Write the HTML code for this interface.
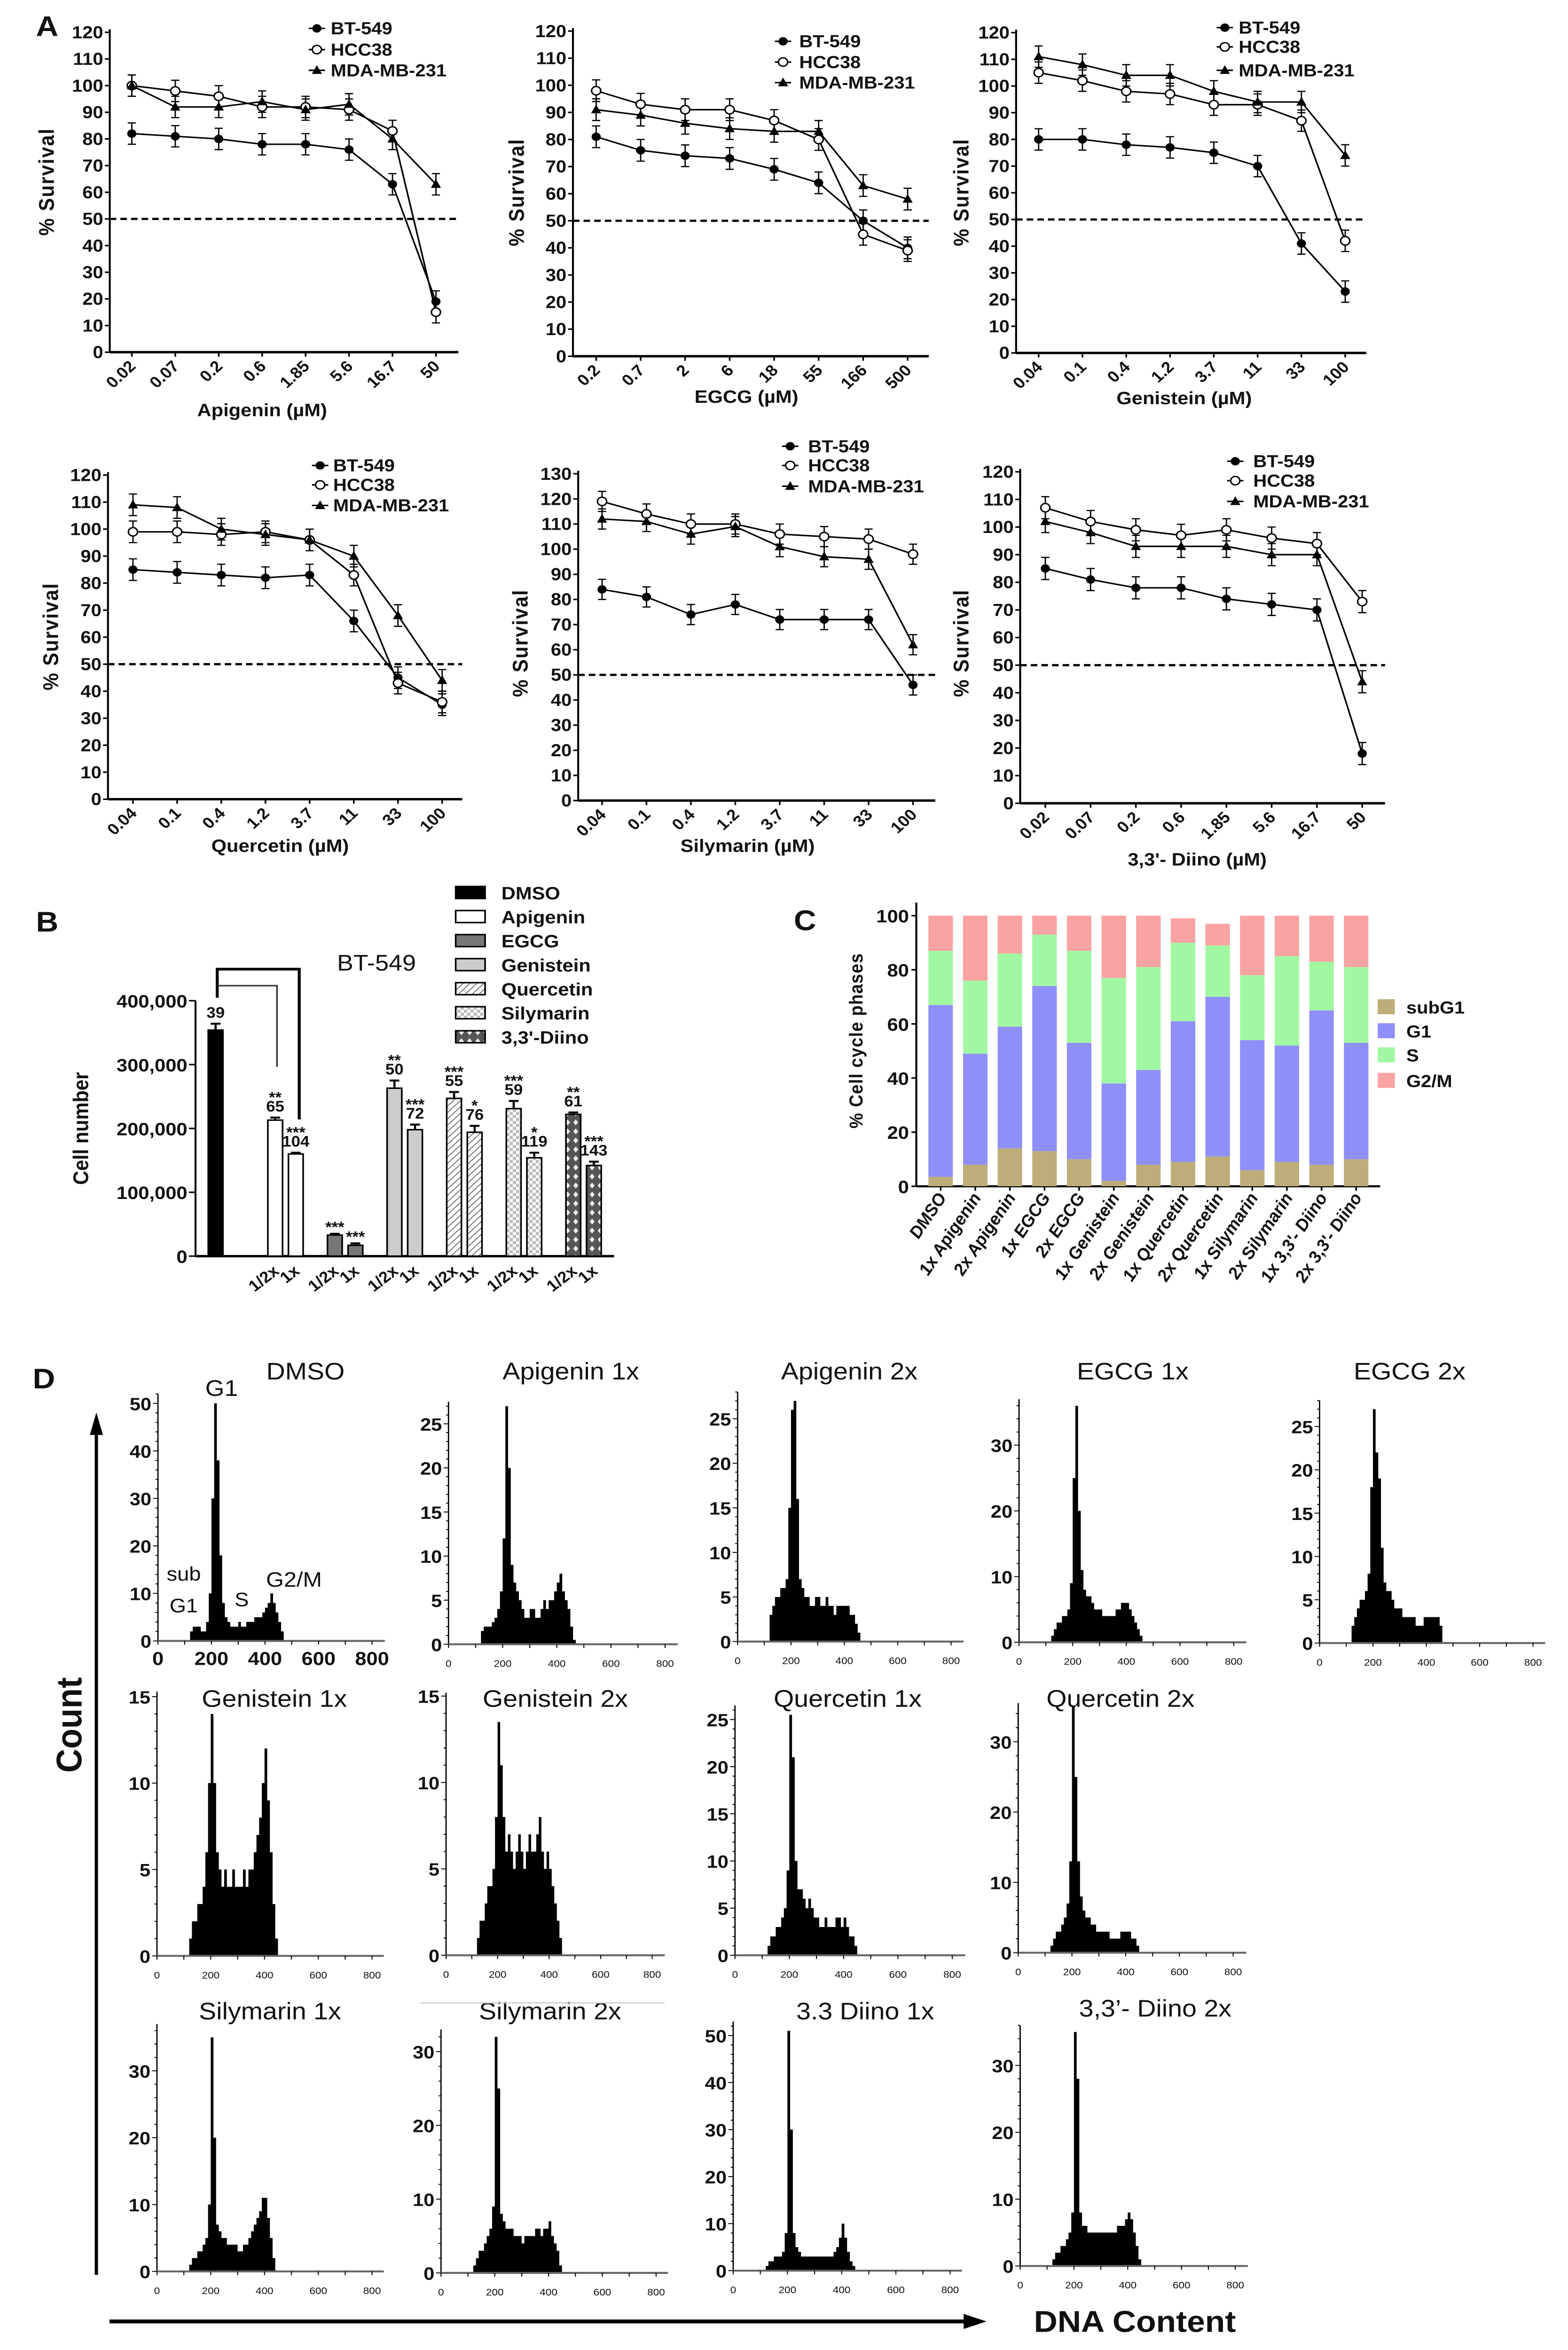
<!DOCTYPE html>
<html><head><meta charset="utf-8">
<style>
html,body{margin:0;padding:0;background:#fff;width:100%;height:100%;overflow:hidden}
svg{display:block;position:fixed;left:0;top:0;width:100vw;height:100vh}
text{font-family:"Liberation Sans",Arial,sans-serif;fill:#111}
</style></head>
<body>
<svg id="fig" xmlns="http://www.w3.org/2000/svg" viewBox="0 0 960 1564" preserveAspectRatio="none" overflow="hidden">
<defs>
<pattern id="hatch" width="3" height="3" patternUnits="userSpaceOnUse" patternTransform="rotate(45)"><rect width="3" height="3" fill="#fff"/><line x1="0" y1="0" x2="0" y2="3" stroke="#666" stroke-width="1.1"/></pattern>
<pattern id="checker" width="4" height="4" patternUnits="userSpaceOnUse"><rect width="4" height="4" fill="#fff"/><rect width="2" height="2" fill="#bbb"/><rect x="2" y="2" width="2" height="2" fill="#bbb"/></pattern>
<pattern id="diino" width="5" height="6" patternUnits="userSpaceOnUse"><rect width="5" height="6" fill="#555"/><polygon points="2.5,1 4,3 2.5,5 1,3" fill="#eee"/></pattern>
</defs>
</svg>
<script>
// ---------- DATA ----------
const apiDoses=['0.02','0.07','0.2','0.6','1.85','5.6','16.7','50'];
const egcgDoses=['0.2','0.7','2','6','18','55','166','500'];
const genDoses=['0.04','0.1','0.4','1.2','3.7','11','33','100'];
const queDoses=['0.04','0.1','0.4','1.2','3.7','11','33','100'];
const silDoses=['0.04','0.1','0.4','1.2','3.7','11','33','100'];
const diiDoses=['0.02','0.07','0.2','0.6','1.85','5.6','16.7','50'];

const apiBT=[82,81,80,78,78,76,63,19];
const apiHCC=[100,98,96,92,92,91,83,15];
const apiMDA=[100,92,92,94,91,93,80,63];
const egcgBT=[81,76,74,73,69,64,50,40];
const egcgHCC=[98,93,91,91,87,80,45,39];
const egcgMDA=[91,89,86,84,83,83,63,58];
const genBT=[80,80,78,77,75,70,41,23];
const genHCC=[105,102,98,97,93,93,87,42];
const genMDA=[111,108,104,104,98,94,94,74];
const queBT=[85,84,83,82,83,66,45,35];
const queHCC=[99,99,98,99,96,83,43,36];
const queMDA=[109,108,100,98,96,90,68,44];
const silBT=[84,81,74,78,72,72,72,46];
const silHCC=[119,114,110,110,106,105,104,98];
const silMDA=[112,111,106,109,101,97,96,62];
const diiBT=[85,81,78,78,74,72,70,18];
const diiHCC=[107,102,99,97,99,96,94,73];
const diiMDA=[102,98,93,93,93,90,90,44];

const bCategories=['DMSO','Apigenin 1/2x','Apigenin 1x','EGCG 1/2x','EGCG 1x','Genistein 1/2x','Genistein 1x','Quercetin 1/2x','Quercetin 1x','Silymarin 1/2x','Silymarin 1x','Diino 1/2x','Diino 1x'];
const bValues=[354000,213000,160000,33000,17000,263000,198000,247000,194000,231000,154000,222000,142000];
const bErrors=[10000,4000,2000,2000,3000,12000,8000,10000,10000,12000,8000,3000,6000];
const bNumbers=['39','65','104','','','50','72','55','76','59','119','61','143'];
const bStars=['','**','***','***','***','**','***','***','*','***','*','**','***'];
const bDoseLabels=['','1/2x','1x','1/2x','1x','1/2x','1x','1/2x','1x','1/2x','1x','1/2x','1x'];
const bTicks=[0,100000,200000,300000,400000];
const bTickLabels=['0','100,000','200,000','300,000','400,000'];
const bLegendNames=['DMSO','Apigenin','EGCG','Genistein','Quercetin','Silymarin',"3,3'-Diino"];

const cCategories=['DMSO','1x Apigenin','2x Apigenin','1x EGCG','2x EGCG','1x Genistein','2x Genistein','1x Quercetin','2x Quercetin','1x Silymarin','2x Silymarin',"1x 3,3'- Diino","2x 3,3'- Diino"];
const cSubG1=[3.5,8,14,13,10,2,8,9,11,6,9,8,10];
const cG1=[63.5,41,45,61,43,36,35,52,59,48,43,57,43];
const cS=[20,27,27,19,34,39,38,29,19,24,33,18,28];
const cG2M=[13,24,14,7,13,23,19,9,8,22,15,17,19];
const cTicks=[0,20,40,60,80,100];
const cPhases=['subG1','G1','S','G2/M'];

const histBinStart=120, histBinWidth=10;
const hDMSO=[2,3,3,3,2,2,4,10,30,50,38,18,8,5,4,3,3,3,4,3,3,4,4,4,5,5,5,6,7,8,10,8,6,4,2,0];
const hApi1=[1.5,2,2,2,2.5,3,4,6,12,27,20,9,7,6,5,4,3,3,4,4,3,3,4,5,4,5,5,6,7,8,6,5,4,2,0.5,0];
const hApi2=[3,4,5,5,6,6,7,15,26,27,16,7,6,5,5,4,4,5,5,4,4,5,4,4,3,4,4,4,4,4,3,3,2,1,0,0];
const hEgcg1=[1,2,3,3,4,4,5,9,25,36,20,11,8,7,7,6,5,5,5,4,4,4,4,4,5,5,6,6,6,5,4,3,2,1,0,0];
const hEgcg2=[2,3,4,5,5,6,8,18,27,22,19,11,7,6,6,5,4,4,4,3,3,3,3,3,2,2,2,3,3,3,3,3,3,2,0,0];
const hGen1=[1,2,2,3,3,4,6,10,14,10,6,5,4,5,4,4,5,4,4,4,5,4,5,5,6,7,8,10,12,9,6,3,1,0,0,0];
const hGen2=[1,2,2,3,4,4,5,8,13.5,11,8,6,7,6,5,6,7,6,5,6,7,6,6,7,8,6,5,6,5,4,3,2,1,0,0,0];
const hQue1=[1,2,2,3,3,4,5,9,25.5,21,10,7,7,6,5,6,5,4,4,3,3,4,3,3,3,4,4,3,4,3,2,2,1,0,0,0];
const hQue2=[1,2,3,3,4,5,7,13,35,25,13,8,6,5,5,4,4,3,3,3,3,3,2,2,2,2,3,3,3,3,2,2,1,0,0,0];
const hSil1=[1,2,2,3,3,4,5,10,35,20,7,6,5,5,4,4,4,4,3,3,4,4,5,6,7,8,9,11,11,8,5,2,0,0,0,0];
const hSil2=[1,2,3,3,4,5,6,9,32,25,8,7,6,6,6,5,5,5,4,5,5,5,5,6,6,5,6,6,7,5,4,3,1,0,0,0];
const hDii1=[1,2,2,3,3,3,4,8,51,30,8,5,4,3,3,3,3,3,3,3,3,3,3,3,3,4,5,7,10,7,4,2,1,0,0,0];
const hDii2=[1,2,2,3,3,4,5,8,35,28,8,6,6,5,5,5,5,5,5,5,5,5,5,5,6,6,6,7,8,7,5,3,1,0,0,0];
const hXTicks=[0,200,400,600,800];

// ---------- helpers ----------
const NS='http://www.w3.org/2000/svg';
const svg=document.getElementById('fig');
function mk(tag,attrs,parent){const e=document.createElementNS(NS,tag);for(const k in attrs)e.setAttribute(k,attrs[k]);(parent||svg).appendChild(e);return e;}
function txt(s,attrs,parent){const e=mk('text',attrs,parent);e.textContent=s;return e;}

[['A',22,24],['B',22,620],['C',486,619],['D',20,924]].forEach(p=>{
  const t=txt(p[0],{x:p[1],y:p[2],'font-size':19,'font-weight':'bold'});
  
  
});

// ---------- Panel A ----------
const lineLayouts=[
 {ax:67.2,x0:80.7,x1:266.9,right:280.6,yTop:21.5,yBot:234.4,ymax:120,tX:160.5,tY:277,yx:28,yy:121,mx:194,tx:202.5,ly:[18.9,33,46.8]},
 {ax:350.8,x0:365,x1:555.7,right:568.6,yTop:20.7,yBot:237.1,ymax:120,tX:457,tY:268,yx:315.7,yy:128,mx:479.4,tx:489.3,ly:[27.5,41.3,55]},
 {ax:622.1,x0:635.9,x1:823.6,right:836.5,yTop:21.7,yBot:234.9,ymax:120,tX:725,tY:269,yx:588,yy:128,mx:749.9,tx:758.4,ly:[18.4,31.2,46.8]},
 {ax:66.1,x0:81.4,x1:270.7,right:283,yTop:316.2,yBot:531.9,ymax:120,tX:171.5,tY:567,yx:30.6,yy:423.6,mx:196,tx:204,ly:[309.8,322.7,336.4]},
 {ax:354,x0:368.6,x1:559,right:572.6,yTop:315.3,yBot:532.8,ymax:130,tX:457.7,tY:567,yx:318,yy:428,mx:483.8,tx:494.8,ly:[297,309.8,323.6]},
 {ax:624.6,x0:640,x1:834,right:848,yTop:314,yBot:534.6,ymax:120,tX:733,tY:576,yx:588,yy:428,mx:756.3,tx:767.3,ly:[307,319.9,333.7]}];
const lineCharts=[
 [apiDoses,apiBT,apiHCC,apiMDA,'Apigenin (µM)','apigenin'],
 [egcgDoses,egcgBT,egcgHCC,egcgMDA,'EGCG (µM)','egcg'],
 [genDoses,genBT,genHCC,genMDA,'Genistein (µM)','genistein'],
 [queDoses,queBT,queHCC,queMDA,'Quercetin (µM)','quercetin'],
 [silDoses,silBT,silHCC,silMDA,'Silymarin (µM)','silymarin'],
 [diiDoses,diiBT,diiHCC,diiMDA,"3,3'- Diino (µM)",'diino']];
const ERR=4;
function marker(kind,x,y,g){
  let m;
  if(kind===0) m=mk('circle',{cx:x,cy:y,r:2.8,fill:'#000'},g);
  else if(kind===1) m=mk('circle',{cx:x,cy:y,r:2.8,fill:'#fff',stroke:'#000','stroke-width':0.9},g);
  else m=mk('polygon',{points:`${x},${y-3.4} ${x-3.1},${y+2.4} ${x+3.1},${y+2.4}`,fill:'#000'},g);
  return m;
}
lineCharts.forEach((c,ci)=>{
  const L=lineLayouts[ci];
  const [doses,bt,hcc,mda,title,key]=c;
  const g=mk('g',{});
  
  
  const n=doses.length;
  const xS=i=>L.x0+i*(L.x1-L.x0)/(n-1);
  const yS=v=>L.yBot-v*(L.yBot-L.yTop)/L.ymax;
  const ya=mk('line',{x1:L.ax,y1:L.yTop-2,x2:L.ax,y2:L.yBot,stroke:'#000','stroke-width':1.2},g);
  
  
  const xa=mk('line',{x1:L.ax,y1:L.yBot,x2:L.right,y2:L.yBot,stroke:'#000','stroke-width':1.6},g);
  
  
  for(let v=0;v<=L.ymax;v+=10){
    mk('line',{x1:L.ax-3,y1:yS(v),x2:L.ax,y2:yS(v),stroke:'#000','stroke-width':1},g);
    const t=txt(String(v),{x:L.ax-4,y:yS(v)+4,'text-anchor':'end','font-size':11.5,'font-weight':'bold'},g);
    
    
  }
  doses.forEach((d,i)=>{
    const px=xS(i);
    mk('line',{x1:px,y1:L.yBot,x2:px,y2:L.yBot+3,stroke:'#000','stroke-width':1},g);
    const t=txt(d,{x:px+3,y:L.yBot+10,'text-anchor':'end','font-size':10.5,'font-weight':'bold',transform:`rotate(-45 ${px+3} ${L.yBot+10})`},g);
    
    
  });
  const xt=txt(title,{x:L.tX,y:L.tY,'text-anchor':'middle','font-size':12,'font-weight':'bold'},g);
  
  
  const yt=txt('% Survival',{x:L.yx+5,y:L.yy,'text-anchor':'middle','font-size':13,'font-weight':'bold','letter-spacing':0.6,transform:`rotate(-90 ${L.yx+5} ${L.yy})`},g);
  
  
  const dl=mk('line',{x1:L.ax,y1:yS(50),x2:L.right,y2:yS(50),stroke:'#000','stroke-width':1.5,'stroke-dasharray':'4 2.5'},g);
  
  
  const series=[bt,hcc,mda];
  const names=['bt-549','hcc38','mda-mb-231'];
  series.forEach((s,si)=>{
    s.forEach((v,i)=>{
      const px=xS(i),y1=yS(v+ERR),y2=yS(v-ERR);
      mk('line',{x1:px,y1:y1,x2:px,y2:y2,stroke:'#000','stroke-width':0.8},g);
      mk('line',{x1:px-2.5,y1:y1,x2:px+2.5,y2:y1,stroke:'#000','stroke-width':0.8},g);
      mk('line',{x1:px-2.5,y1:y2,x2:px+2.5,y2:y2,stroke:'#000','stroke-width':0.8},g);
    });
    const pl=mk('polyline',{points:s.map((v,i)=>xS(i)+','+yS(v)).join(' '),fill:'none',stroke:'#000','stroke-width':1},g);
    
    
  });
  series.forEach((s,si)=>{
    s.forEach((v,i)=>{
      const m=marker(si,xS(i),yS(v),g);
      
      
    });
  });
  ['BT-549','HCC38','MDA-MB-231'].forEach((nm,k)=>{
    const y=L.ly[k];
    mk('line',{x1:L.mx-5,y1:y,x2:L.mx+5,y2:y,stroke:'#000','stroke-width':1},g);
    const m=marker(k,L.mx,y,g);
    
    
    const t=txt(nm,{x:L.tx,y:y+4,'font-size':11.5,'font-weight':'bold'},g);
    
    
  });
});

// ---------- Panel B ----------
(function(){
  const g=mk('g',{});
  
  
  const ax=119.7,yB0=836,yBTop=666,vTop=400000,right=376,bw=9;
  const yS=v=>yB0-v*(yB0-yBTop)/vTop;
  const xC=i=>i===0?132:168.5+Math.floor((i-1)/2)*36.5+((i-1)%2)*12.6;
  const fills=['#000','#fff','#777','#ccc','url(#hatch)','url(#checker)','url(#diino)'];
  const fillOf=i=>i===0?fills[0]:fills[1+Math.floor((i-1)/2)];
  const ya=mk('line',{x1:ax,y1:yBTop,x2:ax,y2:yB0,stroke:'#000','stroke-width':1.2},g);
  
  
  const xa=mk('line',{x1:ax,y1:yB0,x2:right,y2:yB0,stroke:'#000','stroke-width':1.6},g);
  
  
  bTicks.forEach((v,i)=>{
    mk('line',{x1:ax-4,y1:yS(v),x2:ax,y2:yS(v),stroke:'#000','stroke-width':1},g);
    const t=txt(bTickLabels[i],{x:ax-5,y:yS(v)+4.5,'text-anchor':'end','font-size':12,'font-weight':'bold'},g);
    
    
  });
  const yt=txt('Cell number',{x:54,y:751,'text-anchor':'middle','font-size':13,'font-weight':'bold',transform:'rotate(-90 54 751)'},g);
  
  
  bValues.forEach((v,i)=>{
    const cx=xC(i),top=yS(v),ep=yS(v+bErrors[i]);
    const r=mk('rect',{x:cx-bw/2,y:top,width:bw,height:yB0-top,fill:fillOf(i),stroke:'#000','stroke-width':1},g);
    
    
    mk('line',{x1:cx,y1:top,x2:cx,y2:ep,stroke:'#000','stroke-width':1.3},g);
    mk('line',{x1:cx-3,y1:ep,x2:cx+3,y2:ep,stroke:'#000','stroke-width':1.3},g);
    let yy=ep-4;
    if(bNumbers[i]){
      const t=txt(bNumbers[i],{x:cx,y:yy,'text-anchor':'middle','font-size':10,'font-weight':'bold'},g);
      
      
      yy-=9;
    }
    if(bStars[i]){
      const t=txt(bStars[i],{x:cx,y:yy+3,'text-anchor':'middle','font-size':10,'font-weight':'bold'},g);
      
      
    }
    if(bDoseLabels[i]){
      const lx=cx+3,ly=847;
      const t=txt(bDoseLabels[i],{x:lx,y:ly,'text-anchor':'end','font-size':10.5,'font-weight':'bold',transform:`rotate(-40 ${lx} ${ly})`},g);
      
      
    }
  });
  const br1=mk('path',{d:'M133,664 L133,645 L183.2,645 L183.2,745',fill:'none',stroke:'#000','stroke-width':1.8},g);
  
  
  const br2=mk('path',{d:'M133,656 L169.6,656 L169.6,710',fill:'none',stroke:'#333','stroke-width':1},g);
  
  
  const bt=txt('BT-549',{x:230.5,y:646,'text-anchor':'middle','font-size':15},g);
  
  
  const ly=[594,610,626,642,658,674,690];
  bLegendNames.forEach((nm,k)=>{
    const r=mk('rect',{x:279,y:ly[k]-4,width:18,height:8,fill:fills[k],stroke:'#000','stroke-width':1},g);
    
    
    const t=txt(nm,{x:307,y:ly[k]+4.5,'font-size':12,'font-weight':'bold'},g);
    
    
  });
})();

// ---------- Panel C ----------
(function(){
  const g=mk('g',{});
  
  
  const ax=561,y0=789.5,y100=609.4,right=845,bw=15;
  const yS=v=>y0-v*(y0-y100)/100;
  const xC=i=>575.9+i*21.2;
  const cols=['#bdae79','#8f8ffa','#a2f8a2','#f9a3a3'];
  const ya=mk('line',{x1:ax,y1:600.7,x2:ax,y2:y0,stroke:'#000','stroke-width':1.2},g);
  
  
  const xa=mk('line',{x1:ax,y1:y0,x2:right,y2:y0,stroke:'#000','stroke-width':1.4},g);
  
  
  cTicks.forEach(v=>{
    mk('line',{x1:ax-3,y1:yS(v),x2:ax,y2:yS(v),stroke:'#000','stroke-width':1},g);
    const t=txt(String(v),{x:ax-4.5,y:yS(v)+4.5,'text-anchor':'end','font-size':12,'font-weight':'bold'},g);
    
    
  });
  const yt=txt('% Cell cycle phases',{x:528,y:692.6,'text-anchor':'middle','font-size':11.5,'font-weight':'bold','letter-spacing':0.4,transform:'rotate(-90 528 692.6)'},g);
  
  
  cCategories.forEach((c,i)=>{
    const parts=[cSubG1[i],cG1[i],cS[i],cG2M[i]];
    let acc=0;
    parts.forEach((p,k)=>{
      const r=mk('rect',{x:xC(i)-bw/2,y:yS(acc+p),width:bw,height:yS(acc)-yS(acc+p),fill:cols[k]},g);
      
      
      acc+=p;
    });
    mk('line',{x1:xC(i),y1:y0,x2:xC(i),y2:y0+3,stroke:'#000','stroke-width':1},g);
    const lx=xC(i)+4,ly=797;
    const t=txt(c,{x:lx,y:ly,'text-anchor':'end','font-size':11,'font-weight':'bold','font-style':'italic',transform:`rotate(-58 ${lx} ${ly})`},g);
    
    
  });
  const ly=[670,686,702,719];
  cPhases.forEach((p,k)=>{
    const r=mk('rect',{x:843.5,y:ly[k]-5,width:10.5,height:10,fill:cols[k]},g);
    
    
    const t=txt(p,{x:861,y:ly[k]+4.5,'font-size':11.5,'font-weight':'bold'},g);
    
    
  });
})();

// ---------- Panel D ----------
const histSeries=[hDMSO,hApi1,hApi2,hEgcg1,hEgcg2,hGen1,hGen2,hQue1,hQue2,hSil1,hSil2,hDii1,hDii2];
const histTitles=['DMSO','Apigenin 1x','Apigenin 2x','EGCG 1x','EGCG 2x','Genistein 1x','Genistein 2x','Quercetin 1x','Quercetin 2x','Silymarin 1x','Silymarin 2x','3.3 Diino 1x',"3,3’- Diino 2x"];
const histLayouts=[
 {ax:96.7,x8:227.8,xe:235.6,y0:1092.1,k:3.162,top:52,step:10,tx:187,ty:918,big:true},
 {ax:274.6,x8:407.2,xe:415,y0:1094.3,k:5.868,top:27.5,step:5,tx:349.5,ty:918},
 {ax:451.6,x8:582.3,xe:590,y0:1092.5,k:5.932,top:28,step:5,tx:520,ty:918},
 {ax:623.9,x8:755.3,xe:763,y0:1093,k:4.373,top:37,step:10,tx:693.5,ty:918},
 {ax:807.9,x8:938.6,xe:946,y0:1093.5,k:5.764,top:28,step:5,tx:863,ty:918},
 {ax:96.1,x8:227.8,xe:235,y0:1301.7,k:11.5,top:15.3,step:5,tx:168,ty:1136},
 {ax:273.1,x8:399.3,xe:407,y0:1301.3,k:11.5,top:15.2,step:5,tx:340,ty:1136},
 {ax:450,x8:583,xe:591,y0:1301.3,k:6.276,top:26.5,step:5,tx:519,ty:1136},
 {ax:623.4,x8:755,xe:763,y0:1299.6,k:4.68,top:35.5,step:10,tx:686,ty:1136},
 {ax:96.1,x8:227.8,xe:235,y0:1511.7,k:4.45,top:37,step:10,tx:165.3,ty:1344},
 {ax:270,x8:401.7,xe:409,y0:1512.7,k:4.91,top:33,step:10,tx:336.8,ty:1344},
 {ax:448.9,x8:581.7,xe:589,y0:1511.2,k:3.13,top:53,step:10,tx:529.7,ty:1344},
 {ax:624.6,x8:756.3,xe:764,y0:1508.1,k:4.45,top:36,step:10,tx:707.3,ty:1342}];
histSeries.forEach((h,hi)=>{
  const L=histLayouts[hi];
  const g=mk('g',{});
  
  
  const xS=v=>L.ax+v*(L.x8-L.ax)/800;
  const yS=c=>L.y0-c*L.k;
  let d='M'+xS(histBinStart)+','+L.y0;
  h.forEach((c,i)=>{
    const a=xS(histBinStart+i*histBinWidth),b=xS(histBinStart+(i+1)*histBinWidth);
    d+=' L'+a+','+yS(c)+' L'+b+','+yS(c);
  });
  d+=' L'+xS(histBinStart+h.length*histBinWidth)+','+L.y0+' Z';
  const p=mk('path',{d:d,fill:'#000'},g);
  
  
  const ya=mk('line',{x1:L.ax,y1:yS(L.top),x2:L.ax,y2:L.y0,stroke:'#000','stroke-width':0.8},g);
  
  
  const xa=mk('line',{x1:L.ax,y1:L.y0,x2:L.xe,y2:L.y0,stroke:'#666','stroke-width':1.3},g);
  
  
  const minor=L.step/5;
  for(let v=0;v<=L.top+0.001;v+=minor){
    const major=Math.abs(v/L.step-Math.round(v/L.step))<1e-6;
    mk('line',{x1:L.ax-(major?3:1.5),y1:yS(v),x2:L.ax,y2:yS(v),stroke:'#000','stroke-width':0.6},g);
    if(major){
      const t=txt(String(Math.round(v)),{x:L.ax-4,y:yS(v)+4.5,'text-anchor':'end','font-size':12,'font-weight':'bold'},g);
      
      
    }
  }
  for(let v=0;v<=800;v+=100){
    mk('line',{x1:xS(v),y1:L.y0,x2:xS(v),y2:L.y0+2.5,stroke:'#000','stroke-width':0.6},g);
  }
  hXTicks.forEach(v=>{
    const t=L.big?txt(String(v),{x:xS(v),y:L.y0+16,'text-anchor':'middle','font-size':12.5,'font-weight':'bold'},g)
                 :txt(String(v),{x:xS(v),y:L.y0+15,'text-anchor':'middle','font-size':6.5,fill:'#333'},g);
    
    
  });
  const tt=txt(histTitles[hi],{x:L.tx,y:L.ty,'text-anchor':'middle','font-size':16},g);
  
  
});
[['G1',135.7,929,15],['sub',112.5,1052,13],['G1',112.5,1073,13],['S',148,1069,13],['G2/M',180,1056,14]].forEach(a=>{
  const t=txt(a[0],{x:a[1],y:a[2],'text-anchor':'middle','font-size':a[3]});
  
  
});
const sg=mk('line',{x1:257,y1:1333,x2:407,y2:1333,stroke:'#ccc','stroke-width':0.8});


const ca=mk('line',{x1:59,y1:1514,x2:59,y2:950,stroke:'#000','stroke-width':2});


const cah=mk('polygon',{points:'59,940 55,955 63,955',fill:'#000'});


const ct=txt('Count',{x:50,y:1148,'text-anchor':'middle','font-size':22,'font-weight':'bold',transform:'rotate(-90 50 1148)'});


const da=mk('line',{x1:67,y1:1545,x2:592,y2:1545,stroke:'#000','stroke-width':2.6});


const dah=mk('polygon',{points:'604,1545 590,1540 590,1550',fill:'#000'});


const dt=txt('DNA Content',{x:633,y:1552,'font-size':20,'font-weight':'bold'});


</script>
</body></html>
